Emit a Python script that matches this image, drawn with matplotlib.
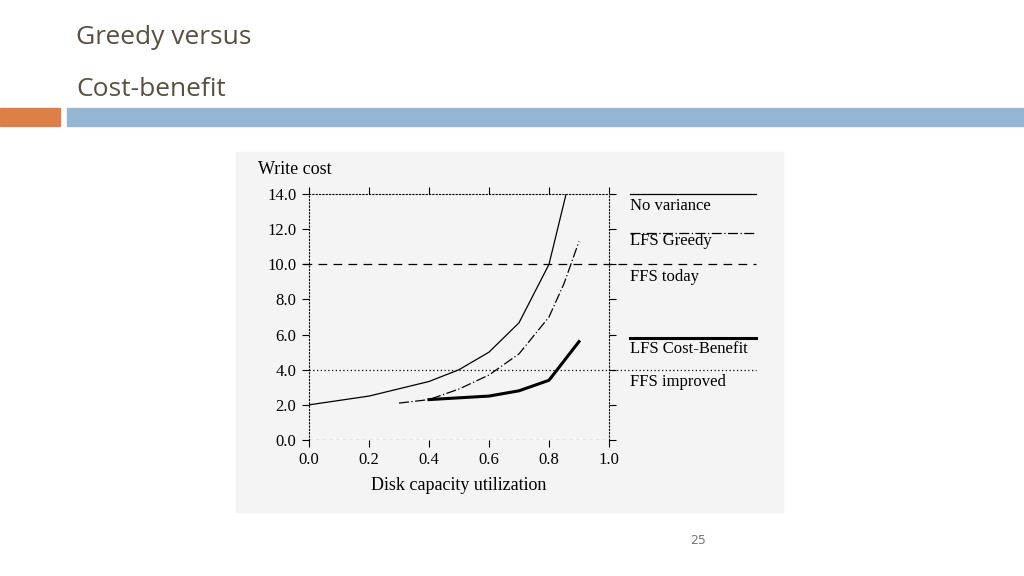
import matplotlib
matplotlib.use("Agg")
import matplotlib.pyplot as plt
from matplotlib.patches import Rectangle

util_nv = [0.0, 0.2, 0.4, 0.5, 0.6, 0.7, 0.8, 0.857]
cost_nv = [2.0, 2.5, 3.33, 4.0, 5.0, 6.67, 10.0, 14.0]
util_gr = [0.3, 0.4, 0.5, 0.6, 0.7, 0.8, 0.85, 0.9]
cost_gr = [2.1, 2.3, 2.9, 3.7, 4.9, 7.0, 8.9, 11.3]
util_cb = [0.4, 0.5, 0.6, 0.7, 0.8, 0.9]
cost_cb = [2.3, 2.4, 2.5, 2.8, 3.4, 5.6]
ffs_today = 10.0
ffs_improved = 4.0
xticks = [0.0, 0.2, 0.4, 0.6, 0.8, 1.0]
yticks = [0.0, 2.0, 4.0, 6.0, 8.0, 10.0, 12.0, 14.0]

W, H = 1024, 576
fig = plt.figure(figsize=(W/100, H/100), dpi=100)
fig.patch.set_facecolor("white")

def fx(p): return p / W
def fy(p): return 1 - p / H

fig.text(fx(76), fy(38), "Greedy versus", fontsize=19, color="#5a5040", va="center", family="Open Sans")
fig.text(fx(76), fy(89), "Cost-benefit", fontsize=19, color="#5a5040", va="center", family="Open Sans")
fig.patches.append(Rectangle((fx(0), fy(126)), fx(60), 18/H, transform=fig.transFigure, color="#dd8047", zorder=0))
fig.patches.append(Rectangle((fx(67), fy(126)), fx(957), 18/H, transform=fig.transFigure, color="#94b6d2", zorder=0))
fig.patches.append(Rectangle((fx(236), fy(512)), fx(547), 360/H, transform=fig.transFigure, color="#f4f4f4", zorder=0))
fig.text(fx(698), fy(541), "25", fontsize=9, color="#777777", ha="center", va="center")

ax = fig.add_axes([fx(309), fy(440), fx(300), 246/H])
ax.set_zorder(5)
ax.set_facecolor("none")
ax.set_xlim(0, 1.0)
ax.set_ylim(0, 14)
for s in ax.spines.values():
    s.set_linestyle((0, (1, 2)))
    s.set_linewidth(0.8)
ax.spines["bottom"].set_visible(False)
ax.axhline(0, color="black", lw=0.8, ls=(0, (3, 3)))
ax.set_xticks(xticks)
ax.set_xticklabels([f"{v:.1f}" for v in xticks])
ax.set_yticks(yticks)
ax.set_yticklabels([f"{v:.1f}" for v in yticks])
ax.tick_params(direction="out", length=5, labelsize=12, top=True, right=True, pad=4)
for lab in ax.get_xticklabels() + ax.get_yticklabels():
    lab.set_family("Liberation Serif")
ax.set_xlabel("Disk capacity utilization", fontsize=13, family="Liberation Serif", labelpad=6)
ax.text(-0.17, 14.9, "Write cost", fontsize=13, family="Liberation Serif", va="bottom")

ax.plot(util_nv, cost_nv, color="black", lw=0.9)
ax.plot(util_gr, cost_gr, color="black", lw=0.9, ls=(0, (8, 2, 1, 2)))
ax.plot(util_cb, cost_cb, color="black", lw=2.2)
ax.plot([-0.02, 1.49], [ffs_today]*2, color="black", lw=0.9, ls=(0, (7, 5)), clip_on=False)
ax.plot([0, 1.49], [ffs_improved]*2, color="black", lw=0.9, ls=(0, (1, 2)), clip_on=False)

lx = [1.07, 1.49]
ax.plot(lx, [14.0]*2, color="black", lw=0.9, clip_on=False)
ax.plot(lx, [11.8]*2, color="black", lw=0.9, ls=(0, (8, 2, 1, 2)), clip_on=False)
ax.plot(lx, [5.8]*2, color="black", lw=2.2, clip_on=False)
labels = [("No variance", 13.3), ("LFS Greedy", 11.3), ("FFS today", 9.3),
          ("LFS Cost-Benefit", 5.2), ("FFS improved", 3.3)]
for t, y in labels:
    ax.text(1.07, y, t, fontsize=12, family="Liberation Serif", va="center", clip_on=False)

fig.savefig("out.png", dpi=100)
